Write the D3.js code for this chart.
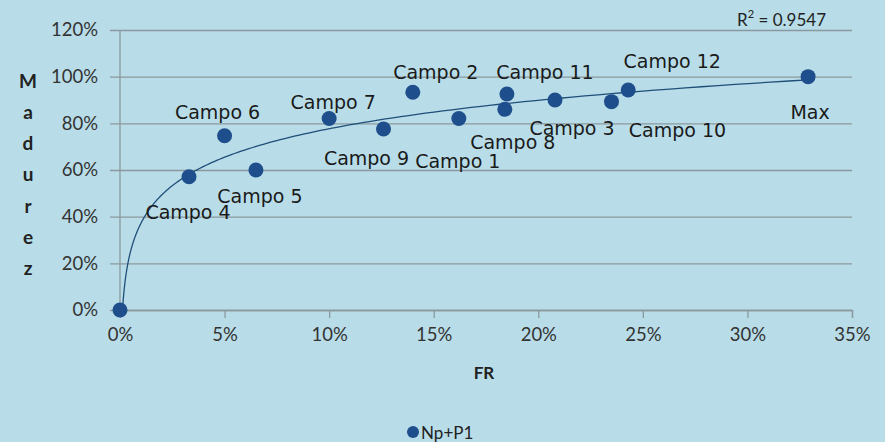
<!DOCTYPE html>
<html>
<head>
<meta charset="utf-8">
<script src="https://cdn.jsdelivr.net/npm/d3@7"></script>
<style>
  html, body { margin: 0; padding: 0; background: #b8dde8; }
  svg { display: block; }
</style>
</head>
<body>
<svg id="chart" width="885" height="442"></svg>
<script>
// values
const pointNames = ["", "Campo 1", "Campo 2", "Campo 3", "Campo 4", "Campo 5", "Campo 6", "Campo 7",
  "Campo 8", "Campo 9", "Campo 10", "Campo 11", "Campo 12", "Max"];
const frValues = [0, 0.162, 0.140, 0.208, 0.033, 0.065, 0.050, 0.100, 0.184, 0.126, 0.235, 0.185, 0.243, 0.329];
const madurezValues = [0, 0.821, 0.933, 0.900, 0.571, 0.600, 0.747, 0.821, 0.860, 0.776, 0.893, 0.926, 0.943, 1.0];
const xTicks = [0, 0.05, 0.10, 0.15, 0.20, 0.25, 0.30, 0.35];
const yTicks = [0, 0.2, 0.4, 0.6, 0.8, 1.0, 1.2];
// log trendline y = a*ln(x) + b
const trendA = 0.176;
const trendB = 1.182;
const rSquared = "0.9547";
const seriesName = "Np+P1";

// where each data label sits relative to its point (dx, dy)
const labelOffsets = [[0, 0], [-1, 43], [23, -20], [17, 28], [-1, 35], [4, 26], [-7, -24], [4, -16],
  [8, 33], [-17, 29], [66, 28], [38, -22], [44, -29], [2, 35]];

const svg = d3.select("#chart");
const gridColor = "#8b999e";
const dotColor = "#1f4e8c";

const x = d3.scaleLinear().domain([0, 0.35]).range([120, 852]);
const y = d3.scaleLinear().domain([0, 1.2]).range([310, 30]);

// horizontal grid + y labels
const yAxis = svg.append("g")
  .attr("transform", "translate(852,0)")
  .call(d3.axisLeft(y).tickValues(yTicks).tickFormat(d3.format(".0%"))
    .tickSize(742).tickPadding(12));
yAxis.select(".domain").remove();
yAxis.selectAll("line").attr("stroke", gridColor).attr("stroke-width", 1.3);
yAxis.selectAll("text")
  .attr("font-family", "Lato, sans-serif").attr("font-size", 18.5).attr("fill", "#333");

// vertical axis line
svg.append("line")
  .attr("x1", x(0)).attr("x2", x(0)).attr("y1", y(1.2)).attr("y2", y(0))
  .attr("stroke", gridColor).attr("stroke-width", 1.3);

// x axis
const xAxis = svg.append("g")
  .attr("transform", `translate(0,${y(0)})`)
  .call(d3.axisBottom(x).tickValues(xTicks).tickFormat(d3.format(".0%"))
    .tickSize(8).tickSizeOuter(8).tickPadding(10));
xAxis.select(".domain").attr("stroke", gridColor).attr("stroke-width", 1.3);
xAxis.selectAll("line").attr("stroke", gridColor).attr("stroke-width", 1.3);
xAxis.selectAll("text")
  .attr("font-family", "Lato, sans-serif").attr("font-size", 18.5).attr("fill", "#333");

// trendline
const xStart = Math.exp(-trendB / trendA);
const xEnd = d3.max(frValues);
const trendPts = d3.range(0, 201).map(i => {
  const t = i / 200;
  const fx = Math.exp(Math.log(xStart) + t * (Math.log(xEnd) - Math.log(xStart)));
  return [fx, trendA * Math.log(fx) + trendB];
});
svg.append("path")
  .datum(trendPts)
  .attr("fill", "none")
  .attr("stroke", "#1f4e79")
  .attr("stroke-width", 1.3)
  .attr("d", d3.line().x(d => x(d[0])).y(d => y(d[1])));

// points
const pts = pointNames.map((n, i) => ({ name: n, fr: frValues[i], m: madurezValues[i], off: labelOffsets[i] }));
svg.append("g").selectAll("circle")
  .data(pts)
  .join("circle")
  .attr("cx", d => x(d.fr))
  .attr("cy", d => y(d.m))
  .attr("r", 7.5)
  .attr("fill", dotColor);

svg.append("g").selectAll("text")
  .data(pts.filter(d => d.name))
  .join("text")
  .attr("x", d => x(d.fr) + d.off[0])
  .attr("y", d => y(d.m) + d.off[1])
  .attr("text-anchor", "middle")
  .attr("dominant-baseline", "central")
  .attr("font-family", "DejaVu Sans, sans-serif")
  .attr("font-size", 19)
  .attr("fill", "#1a1a1a")
  .text(d => d.name);

// R squared
const r2 = svg.append("text")
  .attr("x", 826).attr("y", 19)
  .attr("text-anchor", "end")
  .attr("dominant-baseline", "central")
  .attr("font-family", "Lato, sans-serif").attr("font-size", 17).attr("fill", "#222");
r2.append("tspan").text("R");
r2.append("tspan").attr("dy", -6).attr("font-size", 11).text("2");
r2.append("tspan").attr("dy", 6).text(" = " + rSquared);

// axis titles
svg.append("text")
  .attr("x", 484).attr("y", 372)
  .attr("text-anchor", "middle").attr("dominant-baseline", "central")
  .attr("font-family", "Lato, sans-serif").attr("font-weight", "bold")
  .attr("font-size", 17).attr("fill", "#222")
  .text("FR");

const yTitle = "Madurez".split("");
svg.append("g").selectAll("text")
  .data(yTitle)
  .join("text")
  .attr("x", 28)
  .attr("y", (d, i) => 80 + i * 31.3)
  .attr("text-anchor", "middle").attr("dominant-baseline", "central")
  .attr("font-family", "Lato, sans-serif").attr("font-weight", "bold")
  .attr("font-size", 19).attr("fill", "#222")
  .text(d => d);

// legend
const legend = svg.append("g").attr("transform", "translate(413,432)");
legend.append("circle").attr("r", 6).attr("fill", dotColor);
legend.append("text")
  .attr("x", 8).attr("dominant-baseline", "central")
  .attr("font-family", "Lato, sans-serif").attr("font-size", 17).attr("fill", "#222")
  .text(seriesName);
</script>
</body>
</html>
